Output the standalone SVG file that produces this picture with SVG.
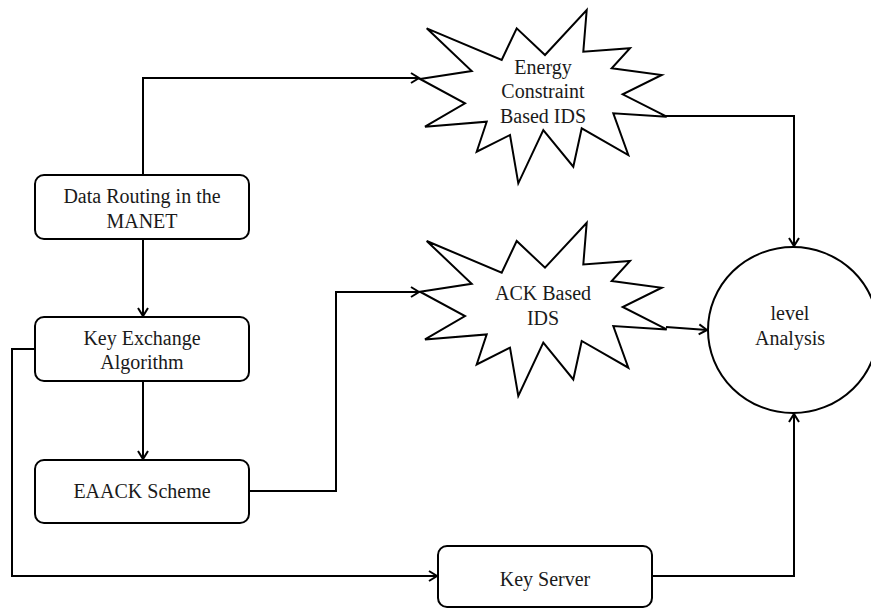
<svg xmlns="http://www.w3.org/2000/svg" width="871" height="608" viewBox="0 0 871 608">
<style>
.shape{fill:#fff;stroke:#000;stroke-width:2}
.conn{fill:none;stroke:#000;stroke-width:2}
text{font-family:"Liberation Serif","Times New Roman",serif;font-size:20px;fill:#1a1a1a;text-anchor:middle}
</style>
<defs>
<marker id="arr" markerUnits="userSpaceOnUse" markerWidth="12" markerHeight="14" refX="9" refY="6" orient="auto">
<path d="M1,1 L9,6 L1,11" fill="none" stroke="#000" stroke-width="2"/>
</marker>
<path id="burst" d="M420,79 L471.7,71 L426.7,28.3 L501.7,60 L516.7,28.3 L545,55 L586.7,10 L583.3,51.7 L630,48.3 L611.7,68.3 L661.7,75 L622.7,94.3 L666.7,116.7 L613.3,113.3 L628.3,155 L581.7,128.3 L573.3,166.7 L543.3,130 L518.3,183.3 L510,135 L476.7,151.7 L486.7,121.7 L425,126.7 L465,103.3 Z"/>
</defs>
<g id="connectors">
<polyline class="conn" points="143,175 143,78 419,78" marker-end="url(#arr)"/>
<line class="conn" x1="143" y1="239" x2="143" y2="316" marker-end="url(#arr)"/>
<line class="conn" x1="143" y1="381" x2="143" y2="459" marker-end="url(#arr)"/>
<polyline class="conn" points="35,349 12,349 12,576 437,576" marker-end="url(#arr)"/>
<polyline class="conn" points="249,491 336,491 336,292 419,292" marker-end="url(#arr)"/>
<polyline class="conn" points="666,116 794,116 794,246" marker-end="url(#arr)"/>
<polyline class="conn" points="666,327 707,330" marker-end="url(#arr)"/>
<polyline class="conn" points="652,576 794,576 794,414" marker-end="url(#arr)"/>
</g>
<g id="data-routing">
<rect class="shape" x="35" y="175" width="214" height="64" rx="9"/>
<text x="142" y="203">Data Routing in the</text>
<text x="142" y="228">MANET</text>
</g>
<g id="key-exchange">
<rect class="shape" x="35" y="317" width="214" height="64" rx="9"/>
<text x="142" y="345">Key Exchange</text>
<text x="142" y="369">Algorithm</text>
</g>
<g id="eaack">
<rect class="shape" x="35" y="460" width="214" height="63" rx="9"/>
<text x="142" y="498">EAACK Scheme</text>
</g>
<g id="key-server">
<rect class="shape" x="438" y="546" width="214" height="61" rx="9"/>
<text x="545" y="586">Key Server</text>
</g>
<g id="energy-ids">
<use href="#burst" class="shape"/>
<text x="543" y="74">Energy</text>
<text x="543" y="98">Constraint</text>
<text x="543" y="123">Based IDS</text>
</g>
<g id="ack-ids">
<use href="#burst" class="shape" transform="translate(0,212.7)"/>
<text x="543" y="300">ACK Based</text>
<text x="543" y="325">IDS</text>
</g>
<g id="level-analysis">
<ellipse class="shape" cx="793" cy="330" rx="85" ry="83"/>
<text x="790" y="320">level</text>
<text x="790" y="345">Analysis</text>
</g>
</svg>
